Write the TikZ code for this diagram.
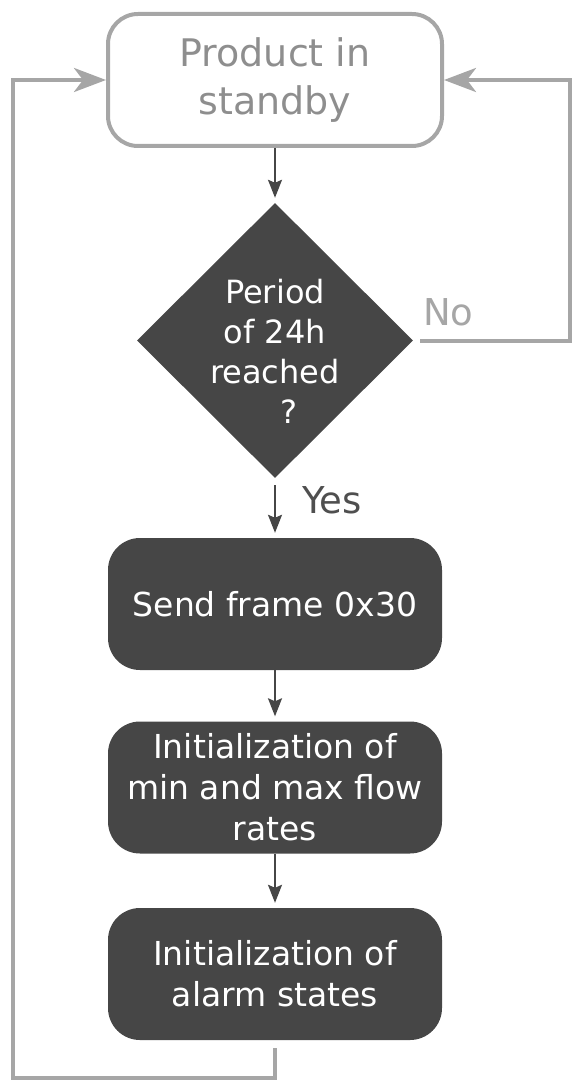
\documentclass[tikz,border=0pt]{standalone}
\usepackage{fontspec}
\setmainfont{DejaVu Sans}
\usetikzlibrary{shapes.geometric,arrows.meta,calc}

\definecolor{boxdark}{HTML}{464646}
\definecolor{linegrey}{HTML}{A6A6A6}
\definecolor{textgrey}{HTML}{8E8E8E}

\tikzset{
  startbox/.style={draw=linegrey, line width=4pt, rounded corners=30pt,
    minimum width=334pt, minimum height=132pt, text=textgrey, align=center,
    font=\fontsize{38pt}{48pt}\selectfont},
  stepbox/.style={fill=boxdark, rounded corners=32pt,
    minimum width=334pt, minimum height=132pt, text=white, align=center,
    font=\fontsize{33pt}{41pt}\selectfont},
  decision/.style={diamond, fill=boxdark, minimum width=276pt,
    minimum height=275pt, inner sep=0pt},
  flow/.style={draw=boxdark, line width=2pt,
    -{Stealth[length=18pt,width=14pt,inset=3pt]}, shorten >=5pt},
  loopline/.style={draw=linegrey, line width=4pt,
    -{Stealth[length=32pt,width=24pt,inset=9pt]}},
}

\begin{document}
\begin{tikzpicture}[x=1pt, y=-1pt]
    \useasboundingbox (0,0) rectangle (572,1083);

    \node[startbox] (standby) at (275,80) {Product in\\standby};
    \node[decision, label={[name=periodtext, text=white, align=center,
        font=\fontsize{32pt}{40pt}\selectfont, yshift=-11pt]center:Period\\of 24h\\reached\\\hspace*{0.9em}?}]
        (period) at (275,340.5) {};
    \node[stepbox] (send) at (275,604) {Send frame 0x30};
    \node[stepbox] (initflow) at (275,787.5) {Initialization of\\min and max flow\\rates};
    \node[stepbox] (initalarm) at (275,974) {Initialization of\\alarm states};

    \node[anchor=base west, inner sep=0pt, text=boxdark!95,
        font=\fontsize{37pt}{44pt}\selectfont] (yes) at (302,513) {Yes};
    \node[anchor=base west, inner sep=0pt, text=linegrey,
        font=\fontsize{37pt}{44pt}\selectfont] (no) at (423,325) {No};

    \coordinate (rightturn) at (570,0);
    \coordinate (bottomturn) at (13,1078);

    \draw[flow] (standby) -- (period);
    \draw[flow, shorten <=7pt] (period) -- (send);
    \draw[flow] (send) -- (initflow);
    \draw[flow] (initflow) -- (initalarm);

    % no: back to standby
    \draw[loopline, shorten <=7pt] (period.east) -| (rightturn |- standby.east) -- (standby.east);
    % after the init steps
    \draw[loopline, shorten <=8pt] (initalarm.south) |- (bottomturn) |- (standby.west);
\end{tikzpicture}
\end{document}
